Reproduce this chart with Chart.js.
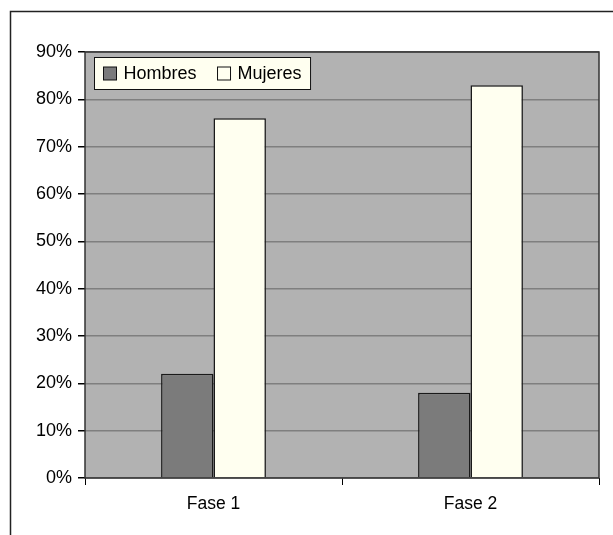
<!DOCTYPE html>
<html>
<head>
<meta charset="utf-8">
<title>Hombres / Mujeres por fase</title>
<script src="https://cdn.jsdelivr.net/npm/chart.js@4.4.1/dist/chart.umd.min.js"></script>
<style>
  html, body { margin: 0; padding: 0; background: #fff; }
  #wrap { width: 613px; height: 535px; }
</style>
</head>
<body>
<div id="wrap"><canvas id="chart" width="613" height="535"></canvas></div>
<script>
// datos
const categorias = ["Fase 1", "Fase 2"];
const hombres = [22, 18];
const mujeres = [76, 83];
const yTicks = [0, 10, 20, 30, 40, 50, 60, 70, 80, 90];

const FONT = "'Liberation Sans', Arial, Helvetica, sans-serif";

// fondo del area, marco exterior, borde del area y leyenda
const decor = {
  id: "decor",
  beforeDraw(chart) {
    const { ctx, chartArea: a } = chart;
    ctx.save();
    ctx.fillStyle = "#fff";
    ctx.fillRect(0, 0, chart.width, chart.height);
    ctx.strokeStyle = "#222";
    ctx.lineWidth = 1.5;
    ctx.strokeRect(10.5, 11.5, chart.width + 20, chart.height + 20);
    ctx.fillStyle = "#b2b2b2";
    ctx.fillRect(a.left, a.top, a.right - a.left, a.bottom - a.top);
    ctx.restore();
  },
  afterDatasetsDraw(chart) {
    const { ctx, chartArea: a } = chart;
    ctx.save();
    ctx.strokeStyle = "#333";
    ctx.lineWidth = 1.5;
    ctx.strokeRect(a.left, a.top, a.right - a.left, a.bottom - a.top);

    // leyenda
    ctx.font = "18px " + FONT;
    const sw = 13, gap = 7, itemGap = 21, padX = 9;
    let w = padX * 2;
    chart.data.datasets.forEach((ds, i) => {
      w += sw + gap + ctx.measureText(ds.label).width;
      if (i < chart.data.datasets.length - 1) w += itemGap;
    });
    const lx = a.left + 9.5, ly = a.top + 5.5, lh = 32;
    ctx.fillStyle = "#fffff0";
    ctx.fillRect(lx, ly, w, lh);
    ctx.strokeStyle = "#111";
    ctx.lineWidth = 1;
    ctx.strokeRect(lx, ly, w, lh);
    let x = lx + padX;
    ctx.textBaseline = "middle";
    chart.data.datasets.forEach(ds => {
      ctx.fillStyle = ds.backgroundColor;
      ctx.fillRect(x, ly + 9.5, sw, sw);
      ctx.strokeStyle = "#111";
      ctx.strokeRect(x, ly + 9.5, sw, sw);
      x += sw + gap;
      ctx.fillStyle = "#000";
      ctx.fillText(ds.label, x, ly + lh / 2 + 1);
      x += ctx.measureText(ds.label).width + itemGap;
    });
    ctx.restore();
  }
};

new Chart(document.getElementById("chart"), {
  type: "bar",
  data: {
    labels: categorias,
    datasets: [
      { label: "Hombres", data: hombres, backgroundColor: "#7b7b7b",
        borderColor: "#1a1a1a", borderWidth: 1.5 },
      { label: "Mujeres", data: mujeres, backgroundColor: "#fffff0",
        borderColor: "#1a1a1a", borderWidth: 1.5 }
    ]
  },
  options: {
    responsive: false,
    animation: false,
    devicePixelRatio: 1,
    layout: { padding: { left: 0, top: 52, right: 14, bottom: 0 } },
    datasets: { bar: { categoryPercentage: 0.408, barPercentage: 1 } },
    plugins: { legend: { display: false }, tooltip: { enabled: false } },
    scales: {
      x: {
        grid: { display: true, drawOnChartArea: false, offset: true,
                tickLength: 7, tickColor: "#000", color: "#000" },
        border: { display: false },
        ticks: { color: "#000", font: { family: FONT, size: 17.5 }, padding: 9 },
        afterFit(s) { s.height = 57; }
      },
      y: {
        min: 0, max: 90,
        afterBuildTicks(s) { s.ticks = yTicks.map(v => ({ value: v })); },
        grid: { color: "#7f7f7f", lineWidth: 1.5, tickLength: 7, tickColor: "#000" },
        border: { display: false },
        ticks: { color: "#000", font: { family: FONT, size: 18 }, padding: 6,
                 callback: v => v + "%" },
        afterFit(s) { s.width = 85; }
      }
    }
  },
  plugins: [decor]
});
</script>
</body>
</html>
